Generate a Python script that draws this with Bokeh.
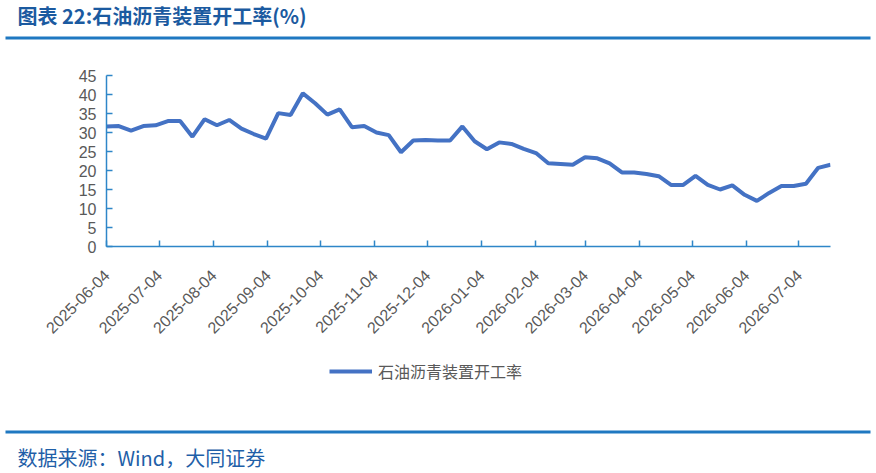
import math
import pandas as pd
from bokeh.plotting import figure
from bokeh.layouts import column
from bokeh.models import (ColumnDataSource, FixedTicker, DatetimeTickFormatter,
                          Range1d, Legend, LegendItem)
from bokeh.core.properties import value
from bokeh.embed import file_html
from bokeh.resources import INLINE

# weekly data, first week 2025-06-04
start_date = "2025-06-04"
series_name = "石油沥青装置开工率"
rate = [31.6, 31.7, 30.5, 31.7, 31.9, 33.0, 33.0, 28.9, 33.5, 31.9,
        33.3, 31.0, 29.6, 28.4, 35.1, 34.6, 40.3, 37.7, 34.7, 36.1,
        31.4, 31.7, 30.0, 29.3, 24.8, 27.9, 28.0, 27.9, 27.9, 31.6,
        27.7, 25.6, 27.4, 27.0, 25.7, 24.6, 21.9, 21.7, 21.5, 23.5,
        23.2, 21.9, 19.5, 19.5, 19.1, 18.5, 16.2, 16.2, 18.6, 16.2,
        15.0, 16.1, 13.6, 12.0, 14.1, 15.9, 15.9, 16.5, 20.7, 21.5]
y_ticks = [0, 5, 10, 15, 20, 25, 30, 35, 40, 45]
n_month_ticks = 14

title_text = "图表 22:石油沥青装置开工率(%)"
source_text = "数据来源：Wind，大同证券"

dates = pd.date_range(start_date, periods=len(rate), freq="7D")
month_ticks = pd.date_range(start_date, periods=n_month_ticks,
                            freq=pd.DateOffset(months=1))
src = ColumnDataSource(data=dict(date=dates, rate=rate))

W = 876
LINE = "#4472C4"
AXIS = "#2E86C8"
GREY = "#595959"
RULE = "#1F78C1"
CJK = "Noto Sans CJK SC"


def blank(h):
    # a figure whose frame is the whole canvas, y measured from the top
    f = figure(width=W, height=h, output_backend="svg", toolbar_location=None,
               x_range=Range1d(0, W), y_range=Range1d(h, 0),
               min_border=0, outline_line_color=None, frame_align=False)
    f.axis.visible = False
    f.grid.visible = False
    return f


# header: title and blue rule
head = blank(45)
head.text(x=[17], y=[15], text=[title_text], text_font=value(CJK),
          text_font_style="bold", text_font_size="20px",
          text_color="#1B5AA0", text_baseline="middle")
head.quad(left=[5], right=[870], top=[36], bottom=[39],
          fill_color=RULE, line_color=None)

# main chart
p = figure(width=W, height=310, x_axis_type="datetime",
           output_backend="svg", toolbar_location=None, frame_align=False,
           min_border_left=106, min_border_right=46,
           min_border_top=30, min_border_bottom=109)
p.x_range = Range1d(dates[0], dates[-1])
p.y_range = Range1d(0, 45)
p.outline_line_color = None
p.xgrid.visible = False
p.ygrid.visible = False

r = p.line("date", "rate", source=src, line_color=LINE, line_width=4)

p.xaxis.ticker = FixedTicker(ticks=[t.value // 10**6 for t in month_ticks])
p.xaxis.formatter = DatetimeTickFormatter(days="%Y-%m-%d", months="%Y-%m-%d",
                                          years="%Y-%m-%d")
p.xaxis.major_label_orientation = math.pi / 4
p.yaxis.ticker = FixedTicker(ticks=y_ticks)
for ax in (p.xaxis, p.yaxis):
    ax.axis_line_color = AXIS
    ax.axis_line_width = 1.5
    ax.major_tick_line_color = AXIS
    ax.major_tick_line_width = 1.5
    ax.major_tick_in = 6
    ax.major_tick_out = 0
    ax.minor_tick_line_color = None
    ax.major_label_text_color = GREY
    ax.major_label_text_font = "Liberation Sans"
    ax.major_label_text_font_size = "16px"
p.yaxis.major_label_standoff = 10
p.xaxis.major_label_standoff = 26

# footer: legend, blue rule, source
foot = blank(118)
# legend key only: its points lie outside the footer's ranges
key = foot.line(x=[-20, -10], y=[-20, -20], line_color=LINE, line_width=4)
foot.add_layout(Legend(items=[LegendItem(label=series_name, renderers=[key])],
                       location=(329, 90), padding=0, margin=0,
                       glyph_width=43, glyph_height=18, label_height=18,
                       label_standoff=6, border_line_color=None,
                       background_fill_alpha=0, label_text_font=CJK,
                       label_text_font_size="16px", label_text_color=GREY))
foot.quad(left=[5], right=[870], top=[75], bottom=[78],
          fill_color=RULE, line_color=None)
foot.text(x=[17], y=[102], text=[source_text], text_font=value(CJK),
          text_font_size="20px", text_color="#1F5FA8", text_baseline="middle")

page = column(head, p, foot, spacing=0)
open("out.html", "w").write(file_html(page, INLINE))
